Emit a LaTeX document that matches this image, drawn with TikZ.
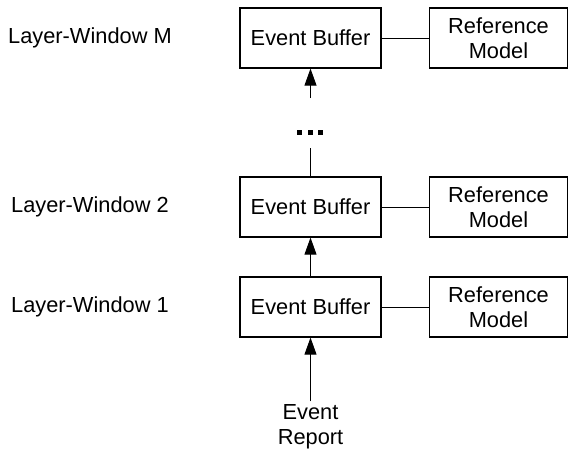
\documentclass[tikz,border=0pt]{standalone}
\usepackage{fontspec}
\setmainfont{Liberation Sans}
\usetikzlibrary{arrows.meta}
\begin{document}
\begin{tikzpicture}[x=1pt,y=-1pt,
  every node/.style={font=\fontsize{21.8}{25.5}\selectfont, inner sep=0pt},
  bufbox/.style={draw, line width=1.2pt, minimum width=141pt, minimum height=60pt},
  refbox/.style={draw, line width=1.2pt, minimum width=138pt, minimum height=60pt, align=center},
  layerlabel/.style={anchor=west},
  link/.style={line width=0.9pt},
  feed/.style={line width=0.9pt, -{Triangle[width=12pt,length=17pt]}}
]
\useasboundingbox (0,0) rectangle (569,450);

% layer labels
\node[layerlabel] (lwM) at (8,38) {Layer-Window M};
\node[layerlabel] (lw2) at (11,207) {Layer-Window 2};
\node[layerlabel] (lw1) at (11,307) {Layer-Window 1};

% event buffers
\node[bufbox] (bufM) at (310.5,38) {Event Buffer};
\node[bufbox] (buf2) at (310.5,207) {Event Buffer};
\node[bufbox] (buf1) at (310.5,307) {Event Buffer};

% reference models
\node[refbox] (refM) at (498.5,38) {Reference\\Model};
\node[refbox] (ref2) at (498.5,207) {Reference\\Model};
\node[refbox] (ref1) at (498.5,307) {Reference\\Model};

\draw[link] (bufM) -- (refM);
\draw[link] (buf2) -- (ref2);
\draw[link] (buf1) -- (ref1);

% input
\node[align=center, inner sep=3pt] (report) at (310.5,427) {Event\\Report};
\draw[feed] (report.north) -- (buf1.south);
\draw[feed] (buf1.north) -- (buf2.south);

% elided layers
\node[minimum width=26pt, minimum height=5pt] (dots) at (310.5,132.5) {};
\fill (297,130) rectangle +(5,5);
\fill (308,130) rectangle +(5,5);
\fill (318,130) rectangle +(5,5);
\coordinate (gapLow) at (310.5,148);
\coordinate (gapHigh) at (310.5,98);
\draw[link] (buf2.north) -- (gapLow);
\draw[feed] (gapHigh) -- (bufM.south);
\end{tikzpicture}
\end{document}
